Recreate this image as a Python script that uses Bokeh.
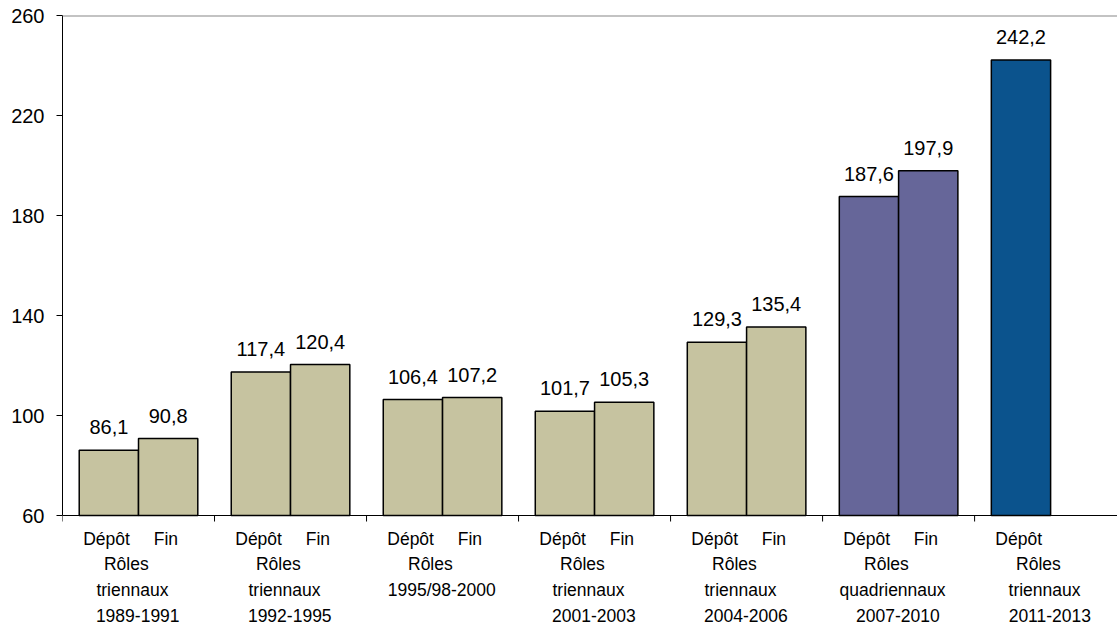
from bokeh.plotting import figure
from bokeh.models import ColumnDataSource, LabelSet, FixedTicker, Span
from bokeh.core.properties import value
from bokeh.embed import file_html
from bokeh.resources import INLINE

# ---- data ----
groups = ["1989-1991", "1992-1995", "1995/98-2000", "2001-2003", "2004-2006", "2007-2010", "2011-2013"]
depot = [86.1, 117.4, 106.4, 101.7, 129.3, 187.6, 242.2]
fin = [90.8, 120.4, 107.2, 105.3, 135.4, 197.9, None]
group_lines = [
    ["Rôles", "triennaux", "1989-1991"],
    ["Rôles", "triennaux", "1992-1995"],
    ["Rôles", "1995/98-2000"],
    ["Rôles", "triennaux", "2001-2003"],
    ["Rôles", "triennaux", "2004-2006"],
    ["Rôles", "quadriennaux", "2007-2010"],
    ["Rôles", "triennaux", "2011-2013"],
]
bar_names = ["Dépôt", "Fin"]
colors = ["#C6C3A0", "#C6C3A0", "#C6C3A0", "#C6C3A0", "#C6C3A0", "#666699", "#0B538D"]
y_ticks = [60, 100, 140, 180, 220, 260]

FONT = "Liberation Sans"
BW = 0.39
PXU = 2.5          # pixels per y unit (500px / 200)
Y0, Y1 = 60, 260   # value axis extent
BOTTOM_PX = 109    # space under the value axis used for category labels

p = figure(width=1117, height=624,
           x_range=(-0.5, 6.44), y_range=(Y0 - BOTTOM_PX / PXU, Y1),
           x_axis_location=None,
           output_backend="svg", toolbar_location=None,
           min_border_left=62, min_border_right=0, min_border_top=15, min_border_bottom=0)
p.outline_line_color = None
p.xgrid.visible = False
p.ygrid.visible = False
p.background_fill_color = "white"

# bars
bx, btop, bcol, blab = [], [], [], []
for i in range(len(groups)):
    bx.append(i - BW / 2); btop.append(depot[i]); bcol.append(colors[i]); blab.append(f"{depot[i]:.1f}".replace(".", ","))
    if fin[i] is not None:
        bx.append(i + BW / 2); btop.append(fin[i]); bcol.append(colors[i]); blab.append(f"{fin[i]:.1f}".replace(".", ","))
bsrc = ColumnDataSource(dict(x=bx, top=btop, color=bcol, label=blab))
p.vbar(x="x", top="top", bottom=Y0, width=BW, fill_color="color", line_color="black",
       line_width=1.5, source=bsrc)

p.add_layout(LabelSet(x="x", y="top", text="label", source=bsrc, text_align="center",
                      text_baseline="bottom", y_offset=16, text_font=value(FONT),
                      text_font_size="20px", text_color="black"))

# top line
p.add_layout(Span(location=Y1, dimension="width", line_color="#888888", line_width=2))

# y axis (restricted to the value extent)
ya = p.yaxis[0]
ya.ticker = FixedTicker(ticks=y_ticks)
ya.bounds = (Y0, Y1)
ya.axis_line_color = "black"
ya.major_tick_out = 6
ya.major_tick_in = 0
ya.minor_tick_line_color = None
ya.major_label_text_font = FONT
ya.major_label_text_font_size = "20px"
ya.major_label_text_color = "black"
ya.major_label_standoff = 12

# x axis line and group separator ticks
p.add_layout(Span(location=Y0, dimension="width", line_color="black", line_width=1))
xt = [i - 0.5 for i in range(len(groups) + 1)]
p.segment(x0=xt, y0=[Y0] * len(xt), x1=xt, y1=[Y0 - 6 / PXU] * len(xt),
          line_color="black", line_width=1)

# category labels below axis
cx, cy, ct = [], [], []
for i in range(len(groups)):
    cx.append(i - BW / 2 - 0.015); cy.append(Y0 - 23 / PXU); ct.append(bar_names[0])
    if fin[i] is not None:
        cx.append(i + BW / 2 - 0.015); cy.append(Y0 - 23 / PXU); ct.append(bar_names[1])
    n = len(group_lines[i])
    for k, line in enumerate(group_lines[i]):
        if k == 0:
            s = -0.08
        elif k == n - 1:
            s = -0.005
        else:
            s = -0.04
        cx.append(i + s); cy.append(Y0 - (23 + 25.5 * (k + 1)) / PXU); ct.append(line)
csrc = ColumnDataSource(dict(x=cx, y=cy, text=ct))
p.add_layout(LabelSet(x="x", y="y", text="text", source=csrc, text_align="center",
                      text_baseline="middle", text_font=value(FONT), text_font_size="17.5px",
                      text_color="black"))

open("out.html", "w").write(file_html(p, INLINE))
